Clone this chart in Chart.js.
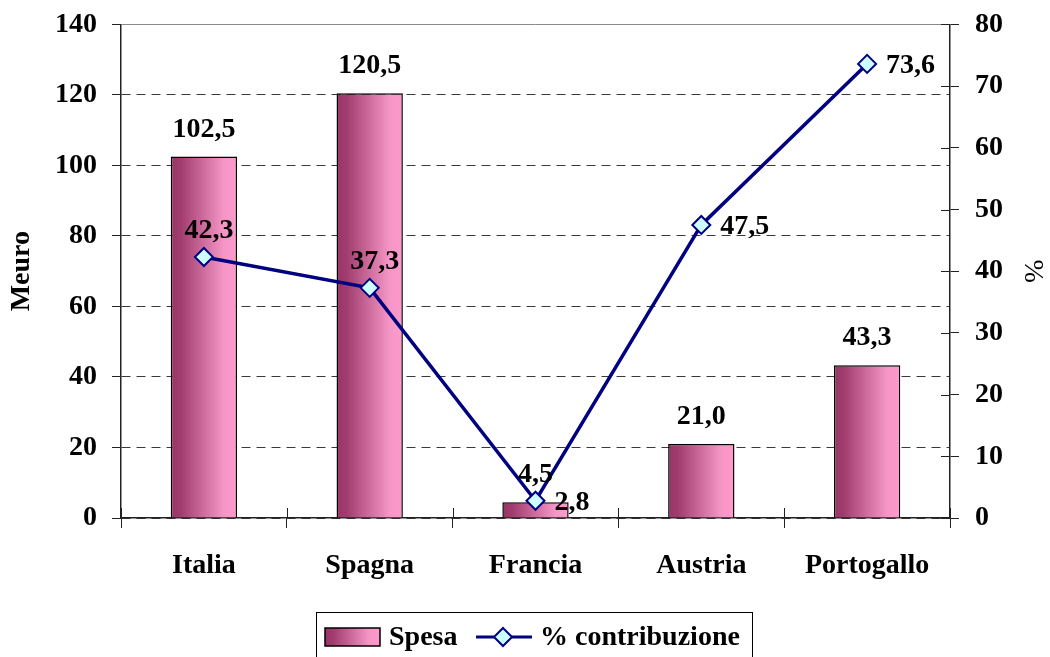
<!DOCTYPE html>
<html lang="it">
<head>
<meta charset="utf-8">
<title>Spesa e % contribuzione</title>
<script src="https://cdn.jsdelivr.net/npm/chart.js@4.4.1/dist/chart.umd.min.js"></script>
<style>
  html, body { margin: 0; padding: 0; background: #ffffff; }
  #wrap { position: relative; width: 1050px; height: 657px; }
</style>
</head>
<body>
<div id="wrap"><canvas id="grafico"></canvas></div>
<script>
// Categorie e serie
const categories = ['Italia', 'Spagna', 'Francia', 'Austria', 'Portogallo'];
const spesa = [102.5, 120.5, 4.5, 21.0, 43.3];          // Meuro
const contribuzione = [42.3, 37.3, 2.8, 47.5, 73.6];     // %

// Scale
const leftTicks = [0, 20, 40, 60, 80, 100, 120, 140];
const rightTicks = [0, 10, 20, 30, 40, 50, 60, 70, 80];

const FONT = "'Liberation Serif', 'Times New Roman', Times, serif";
const INK = '#222222';
const BAR_FRACTION = 0.4;
const fmt = v => v.toFixed(1).replace('.', ',');

Chart.defaults.font.family = FONT;
Chart.defaults.font.size = 28;
Chart.defaults.font.weight = 'bold';
Chart.defaults.color = '#000000';

function barGradient(ctx, x0, x1) {
  const g = ctx.createLinearGradient(x0, 0, x1, 0);
  g.addColorStop(0, '#993366');
  g.addColorStop(0.15, '#a03d6e');
  g.addColorStop(0.8, '#f596c6');
  g.addColorStop(1, '#ff99cc');
  return g;
}

// Etichette dei valori sopra le barre e accanto ai punti
const valueLabels = {
  id: 'valueLabels',
  afterDatasetsDraw(chart, args, opts) {
    const ctx = chart.ctx;
    ctx.save();
    ctx.font = 'bold 28px ' + FONT;
    ctx.fillStyle = '#000';
    const barMeta = chart.getDatasetMeta(0);
    barMeta.data.forEach((bar, i) => {
      ctx.textAlign = 'center';
      ctx.textBaseline = 'alphabetic';
      ctx.fillText(fmt(spesa[i]), bar.x, bar.y - 20);
    });
    const lineMeta = chart.getDatasetMeta(1);
    lineMeta.data.forEach((pt, i) => {
      if (opts.placement[i] === 'above') {
        ctx.textAlign = 'center';
        ctx.textBaseline = 'alphabetic';
        ctx.fillText(fmt(contribuzione[i]), pt.x + 5, pt.y - 19);
      } else {
        ctx.textAlign = 'left';
        ctx.textBaseline = 'middle';
        ctx.fillText(fmt(contribuzione[i]), pt.x + 19, pt.y + 2);
      }
    });
    ctx.restore();
  }
};

// Tacche che attraversano l'asse (categorie e asse destro)
const crossTicks = {
  id: 'crossTicks',
  afterDraw(chart) {
    const ctx = chart.ctx;
    const xs = chart.scales.x, y2 = chart.scales.y2;
    const area = chart.chartArea;
    ctx.save();
    ctx.strokeStyle = INK;
    ctx.lineWidth = 1;
    const step = xs.width / categories.length;
    ctx.beginPath();
    for (let i = 0; i <= categories.length; i++) {
      const px = Math.round(xs.getPixelForValue(0) - step / 2 + i * step) + 0.5;
      ctx.moveTo(px, area.bottom);
      ctx.lineTo(px, area.bottom - 10);
    }
    y2.ticks.forEach(t => {
      const py = Math.round(y2.getPixelForValue(t.value)) + 0.5;
      ctx.moveTo(area.right, py);
      ctx.lineTo(area.right - 9, py);
    });
    ctx.stroke();
    ctx.restore();
  }
};

// Legenda in basso, con campione barra e campione linea
const bottomLegend = {
  id: 'bottomLegend',
  afterDraw(chart) {
    const ctx = chart.ctx;
    const ds = chart.data.datasets;
    ctx.save();
    ctx.strokeStyle = '#000';
    ctx.lineWidth = 1;
    ctx.strokeRect(316.5, 612.5, 436, 70);

    const cy = 637;
    // campione barra
    ctx.fillStyle = barGradient(ctx, 325, 380);
    ctx.fillRect(325, 628, 55, 18);
    ctx.lineWidth = 1.5;
    ctx.strokeRect(325, 628, 55, 18);

    ctx.font = 'bold 28px ' + FONT;
    ctx.fillStyle = '#000';
    ctx.textAlign = 'left';
    ctx.textBaseline = 'middle';
    ctx.fillText(ds[0].label, 389, cy + 1);

    // campione linea
    ctx.strokeStyle = '#000080';
    ctx.lineWidth = 3;
    ctx.beginPath();
    ctx.moveTo(476, cy);
    ctx.lineTo(532, cy);
    ctx.stroke();
    ctx.beginPath();
    ctx.moveTo(503, cy - 9);
    ctx.lineTo(512, cy);
    ctx.lineTo(503, cy + 9);
    ctx.lineTo(494, cy);
    ctx.closePath();
    ctx.fillStyle = '#ccffff';
    ctx.fill();
    ctx.lineWidth = 2;
    ctx.stroke();

    ctx.fillStyle = '#000';
    ctx.fillText(ds[1].label, 540, cy + 1);
    ctx.restore();
  }
};

new Chart(document.getElementById('grafico'), {
  type: 'bar',
  data: {
    labels: categories,
    datasets: [
      {
        type: 'bar',
        label: 'Spesa',
        data: spesa,
        yAxisID: 'y',
        order: 1,
        barPercentage: BAR_FRACTION,
        categoryPercentage: 1,
        borderColor: '#000000',
        borderWidth: 1.5,
        borderSkipped: 'bottom',
        backgroundColor: (c) => {
          const chart = c.chart;
          const xs = chart.scales && chart.scales.x;
          if (c.type !== 'data' || !xs || !(xs.width > 0)) return '#cc6699';
          const cx = xs.getPixelForValue(c.dataIndex);
          const half = xs.width / categories.length * BAR_FRACTION / 2;
          return barGradient(chart.ctx, cx - half, cx + half);
        }
      },
      {
        type: 'line',
        label: '% contribuzione',
        data: contribuzione,
        yAxisID: 'y2',
        order: 0,
        borderColor: '#000080',
        borderWidth: 3.5,
        tension: 0,
        pointStyle: 'rectRot',
        pointRadius: 9,
        pointBackgroundColor: '#ccffff',
        pointBorderColor: '#000080',
        pointBorderWidth: 2
      }
    ]
  },
  options: {
    responsive: true,
    maintainAspectRatio: false,
    animation: false,
    events: [],
    layout: { padding: { top: 22, bottom: 69, left: 0, right: 0 } },
    plugins: {
      legend: { display: false },
      tooltip: { enabled: false },
      valueLabels: { placement: ['above', 'above', 'right', 'right', 'right'] }
    },
    scales: {
      x: {
        offset: true,
        grid: {
          offset: true,
          drawOnChartArea: false,
          tickLength: 10,
          tickColor: INK,
          color: INK
        },
        border: { color: INK, width: 1.5 },
        ticks: { padding: 21, color: '#000' },
        afterFit: s => { s.height = 70; }
      },
      y: {
        position: 'left',
        min: leftTicks[0],
        max: leftTicks[leftTicks.length - 1],
        afterBuildTicks: s => { s.ticks = leftTicks.map(v => ({ value: v })); },
        grid: {
          tickLength: 9,
          tickColor: INK,
          lineWidth: 1,
          color: c => (c.tick && c.tick.value === 140) ? '#8a8a8a' : '#3a3a3a'
        },
        border: {
          color: INK,
          width: 1.5,
          dash: c => (c.tick && c.tick.value === 140) ? [] : [9, 6]
        },
        ticks: { padding: 15, color: '#000', font: { size: 28, weight: 'bold', lineHeight: 0.6 } },
        title: {
          display: true,
          text: 'Meuro',
          color: '#000',
          font: { size: 28, weight: 'bold', lineHeight: 1 },
          padding: { top: 8, bottom: 0 }
        },
        afterFit: s => { s.width = 121; }
      },
      y2: {
        position: 'right',
        min: rightTicks[0],
        max: rightTicks[rightTicks.length - 1],
        afterBuildTicks: s => { s.ticks = rightTicks.map(v => ({ value: v })); },
        grid: {
          drawOnChartArea: false,
          tickLength: 9,
          tickColor: INK,
          color: INK
        },
        border: { color: INK, width: 1.5 },
        ticks: { padding: 16, color: '#000', font: { size: 28, weight: 'bold', lineHeight: 0.6 } },
        title: {
          display: true,
          text: '%',
          color: '#000',
          font: { size: 28, weight: 'normal', lineHeight: 1 },
          padding: { top: 4, bottom: 0 }
        },
        afterFit: s => { s.width = 100; }
      }
    }
  },
  plugins: [valueLabels, crossTicks, bottomLegend]
});
</script>
</body>
</html>
